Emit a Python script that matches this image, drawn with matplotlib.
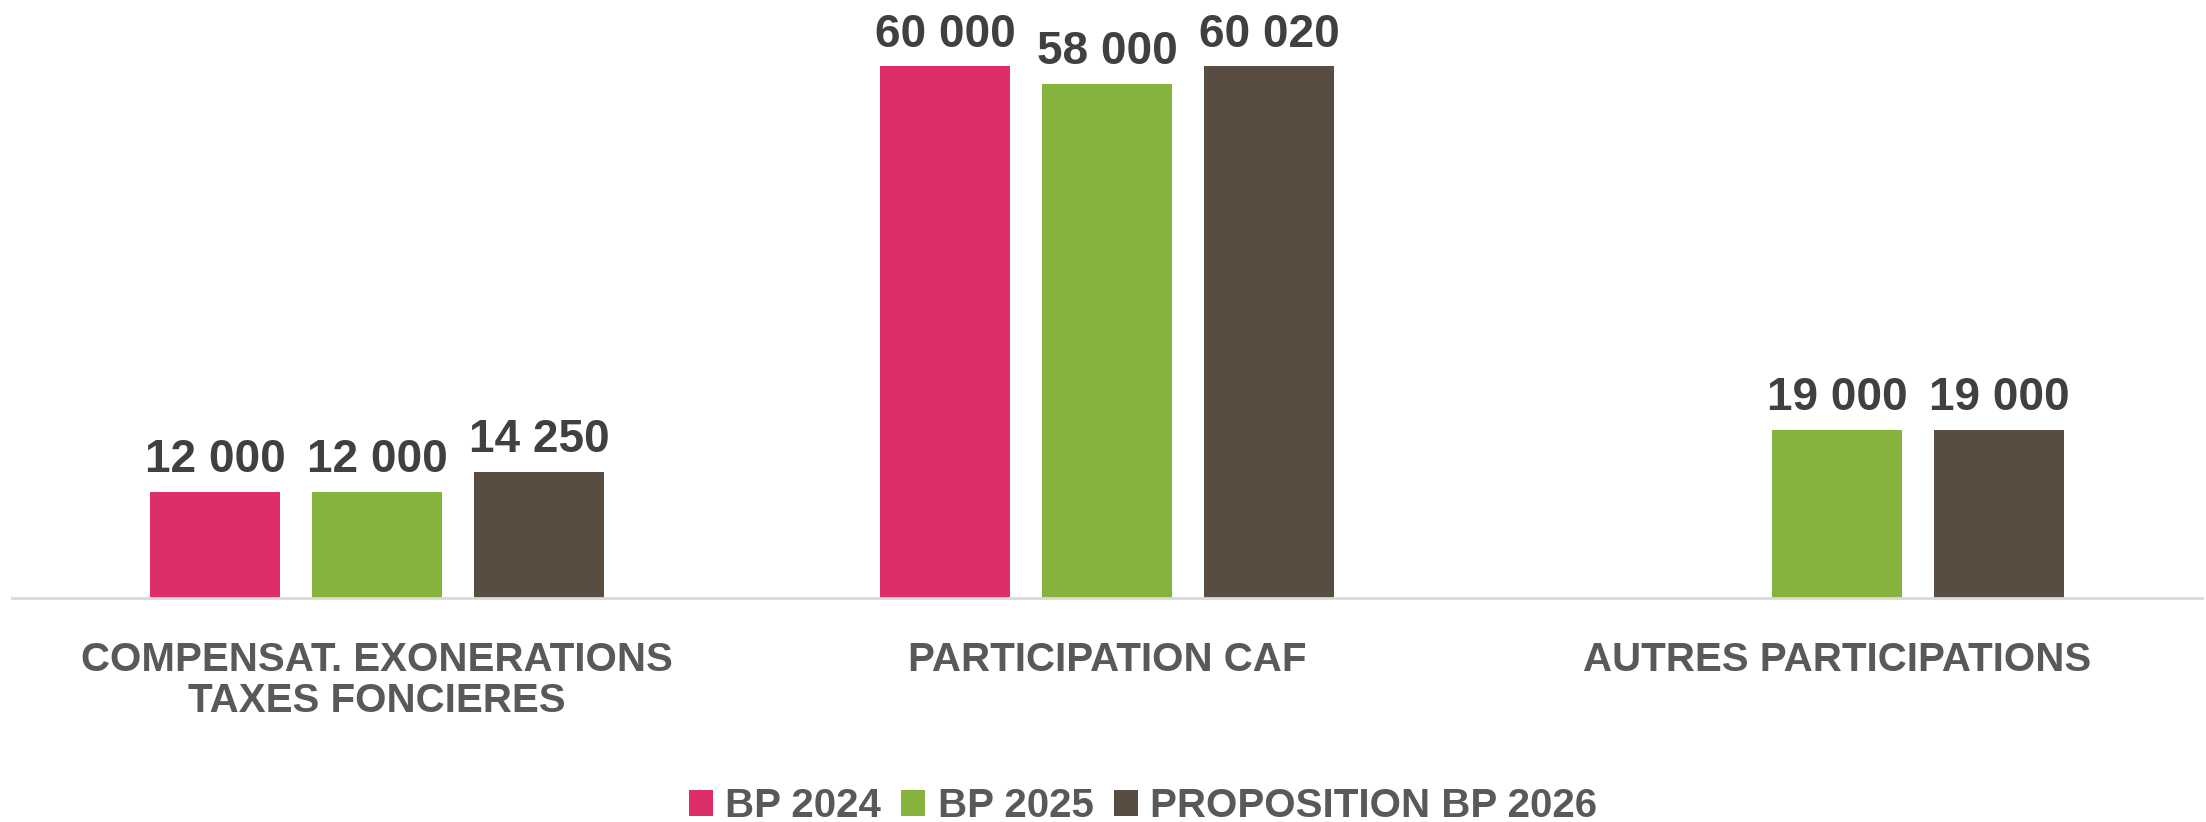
import numpy as np
import matplotlib
matplotlib.use("Agg")
import matplotlib.pyplot as plt

categories = ["COMPENSAT. EXONERATIONS\nTAXES FONCIERES", "PARTICIPATION CAF", "AUTRES PARTICIPATIONS"]
series_names = ["BP 2024", "BP 2025", "PROPOSITION BP 2026"]
bp2024 = [12000, 60000, None]
bp2025 = [12000, 58000, 19000]
bp2026 = [14250, 60020, 19000]
colors = ["#DD2D6A", "#86B33B", "#594C41"]

plt.rcParams['font.family'] = ['Liberation Sans', 'DejaVu Sans']

W, H = 2206, 822
fig = plt.figure(figsize=(W / 100, H / 100), dpi=100)
ax_left, ax_right = 12, 2202
ax_bottom = 598
ymax = 65000
px_per_unit = 8.86 / 1000
ax_top = ax_bottom - ymax * px_per_unit
ax = fig.add_axes([ax_left / W, 1 - ax_bottom / H, (ax_right - ax_left) / W, (ax_bottom - ax_top) / H])

x = np.arange(len(categories))
width = 0.178
offset = 0.222
all_series = [bp2024, bp2025, bp2026]
for i, (vals, name, col) in enumerate(zip(all_series, series_names, colors)):
    heights = [v if v is not None else 0 for v in vals]
    bars = ax.bar(x + (i - 1) * offset, heights, width, color=col, label=name, zorder=2)
    labels = [f"{v:,}".replace(",", " ") if v is not None else "" for v in vals]
    ax.bar_label(bars, labels=labels, padding=7, fontsize=33, fontweight='bold',
                 color='#404040', clip_on=False)

ax.set_xlim(-0.5, 2.5)
ax.set_ylim(0, ymax)
for s in ['top', 'right', 'left']:
    ax.spines[s].set_visible(False)
ax.spines['bottom'].set_color('#D9D9D9')
ax.spines['bottom'].set_linewidth(2)
ax.set_yticks([])
ax.set_xticks(x)
ax.set_xticklabels(categories, fontsize=29, fontweight='bold', color='#595959', linespacing=1.1)
ax.tick_params(axis='x', length=0, pad=31)

leg = fig.legend(loc='center', bbox_to_anchor=(1143 / W, 1 - 806 / H), ncol=3, frameon=False,
                 fontsize=29, handlelength=0.6, handleheight=0.6, handletextpad=0.3,
                 columnspacing=0.5)
for t in leg.get_texts():
    t.set_color('#595959')
    t.set_fontweight('bold')

fig.savefig("out.png", dpi=100)
